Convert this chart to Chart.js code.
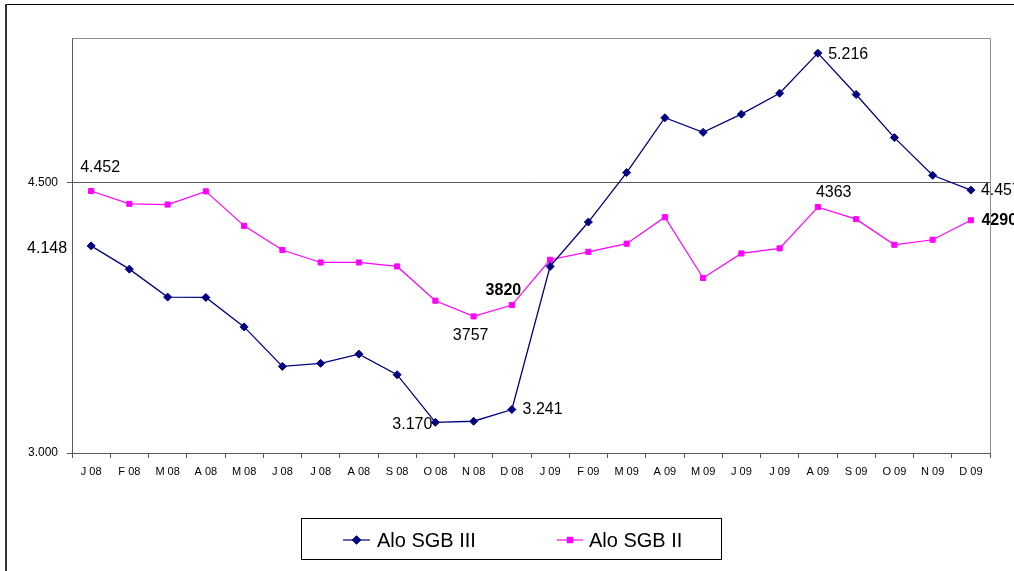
<!DOCTYPE html>
<html><head><meta charset="utf-8">
<script src="https://cdn.jsdelivr.net/npm/chart.js@4/dist/chart.umd.min.js"></script>
<style>html,body{margin:0;padding:0;background:#fff;overflow:hidden}</style>
</head><body>
<canvas id="c" width="1014" height="571"></canvas>
<script>
// ---- data ----
const categories = ['J 08','F 08','M 08','A 08','M 08','J 08','J 08','A 08','S 08','O 08','N 08','D 08',
                    'J 09','F 09','M 09','A 09','M 09','J 09','J 09','A 09','S 09','O 09','N 09','D 09'];
const seriesNames = ['Alo SGB III','Alo SGB II'];
const sgb3 = [4.148,4.019,3.864,3.862,3.699,3.480,3.497,3.548,3.434,3.170,3.176,3.241,
              4.034,4.280,4.554,4.858,4.777,4.878,4.994,5.216,4.987,4.748,4.539,4.457];
const sgb2 = [4.452,4.381,4.377,4.450,4.259,4.125,4.056,4.056,4.034,3.844,3.757,3.820,
              4.071,4.115,4.160,4.307,3.970,4.106,4.134,4.363,4.296,4.154,4.182,4.290];
const yTicks = [3.0, 4.5];
const yMin = 3.0, yMax = 5.3;
const labelTexts  = ['4.452','4.148','3.170','3.241','3820','3757','5.216','4363','4.457','4290'];
const labelSeries = [1,0,0,0,1,1,0,1,0,1];
const labelIndex  = [0,0,9,11,11,10,19,19,23,23];

// ---- styles / placement ----
const FONT = 'Liberation Sans, Arial, Helvetica, sans-serif';
const colors = ['#000080','#FF00FF'];
const labelPlace = [
  {dx:-11, dy:-23, align:'left'},
  {dx:-24, dy:3, align:'right'},
  {dx:-3, dy:2.5, align:'right'},
  {dx:10.7, dy:0.5, align:'left'},
  {dx:-8.5, dy:-14, align:'center', bold:true},
  {dx:-3, dy:19, align:'center'},
  {dx:10.3, dy:1.3, align:'left'},
  {dx:-2, dy:-14.5, align:'left'},
  {dx:10, dy:0.5, align:'left'},
  {dx:10.6, dy:0.3, align:'left', bold:true}
];

const decor = {
  id:'decor',
  beforeDraw(chart){
    const c = chart.ctx;
    c.save(); c.fillStyle='#fff'; c.fillRect(0,0,chart.width,chart.height); c.restore();
  },
  beforeDatasetsDraw(chart){
    const c = chart.ctx, a = chart.chartArea;
    c.save();
    c.strokeStyle = '#8c8c8c'; c.lineWidth = 1;
    c.beginPath();
    c.moveTo(Math.round(a.left)+0.5, Math.round(a.top)+0.5);
    c.lineTo(Math.round(a.right)+0.5, Math.round(a.top)+0.5);
    c.lineTo(Math.round(a.right)+0.5, Math.round(a.bottom)+0.5);
    c.stroke();
    c.restore();
  },
  afterDraw(chart){
    const c = chart.ctx;
    c.save();
    // outer frame
    c.strokeStyle = '#000'; c.lineWidth = 1.2;
    c.beginPath(); c.moveTo(6, 4.5); c.lineTo(chart.width+2, 4.5); c.stroke();
    c.strokeStyle = '#333'; c.lineWidth = 2;
    c.beginPath(); c.moveTo(6, 4); c.lineTo(6, chart.height+2); c.stroke();

    // data labels
    c.fillStyle = '#000'; c.textBaseline = 'middle';
    labelTexts.forEach((t, k) => {
      const pt = chart.getDatasetMeta(labelSeries[k]).data[labelIndex[k]];
      const p = labelPlace[k];
      c.font = (p.bold ? 'bold ' : '') + '16px ' + FONT;
      c.textAlign = p.align;
      c.fillText(t, pt.x + p.dx, pt.y + p.dy);
    });

    // legend
    c.strokeStyle = '#000'; c.lineWidth = 1;
    c.strokeRect(301.5, 518.5, 420, 41);
    const items = [{x0:343, x1:370, text:377, style:'rectRot'}, {x0:557, x1:583, text:589, style:'rect'}];
    items.forEach((it, k) => {
      const y = 540;
      c.strokeStyle = colors[k]; c.lineWidth = 1.2;
      c.beginPath(); c.moveTo(it.x0, y); c.lineTo(it.x1, y); c.stroke();
      Chart.helpers.drawPoint(c, {pointStyle: it.style, radius: it.style==='rect'?3.6:4, borderWidth:1}, (it.x0+it.x1)/2, y);
      c.fillStyle = colors[k];
      c.fill();
      c.fillStyle = '#000'; c.textAlign = 'left'; c.textBaseline = 'middle';
      c.font = '20px ' + FONT;
      c.fillText(seriesNames[k], it.text, y + 1);
    });
    c.restore();
  }
};

new Chart(document.getElementById('c'), {
  type: 'line',
  data: {
    labels: categories,
    datasets: [
      {label: seriesNames[0], data: sgb3, borderColor: colors[0], backgroundColor: colors[0],
       borderWidth: 1.3, pointStyle: 'rectRot', pointRadius: 4, pointBorderWidth: 1, tension: 0},
      {label: seriesNames[1], data: sgb2, borderColor: colors[1], backgroundColor: colors[1],
       borderWidth: 1.2, pointStyle: 'rect', pointRadius: 3.6, pointBorderWidth: 1, tension: 0}
    ]
  },
  options: {
    responsive: false, animation: false, devicePixelRatio: 1,
    layout: {padding: {left: 0, top: 38, right: 24, bottom: 88}},
    plugins: {legend: {display: false}, tooltip: {enabled: false}},
    scales: {
      x: {
        offset: true,
        grid: {offset: true, drawOnChartArea: false, drawTicks: true, tickLength: 5, tickColor: '#595959'},
        border: {display: true, color: '#595959', width: 1},
        ticks: {font: {family: FONT, size: 11}, color: '#000', padding: 7, maxRotation: 0, autoSkip: false},
        afterFit(s){ s.height = 30; }
      },
      y: {
        min: yMin, max: yMax,
        afterBuildTicks(s){ s.ticks = yTicks.map(v => ({value: v})); },
        grid: {color: ctx => (ctx.tick && ctx.tick.value === 4.5) ? '#595959' : 'rgba(0,0,0,0)',
               tickColor: '#595959', tickLength: 5, drawTicks: true},
        border: {display: true, color: '#595959', width: 1},
        ticks: {font: {family: FONT, size: 12}, color: '#000', padding: 9,
                callback: v => Number(v).toFixed(3)},
        afterFit(s){ s.width = 72; }
      }
    }
  },
  plugins: [decor]
});
</script>
</body></html>
